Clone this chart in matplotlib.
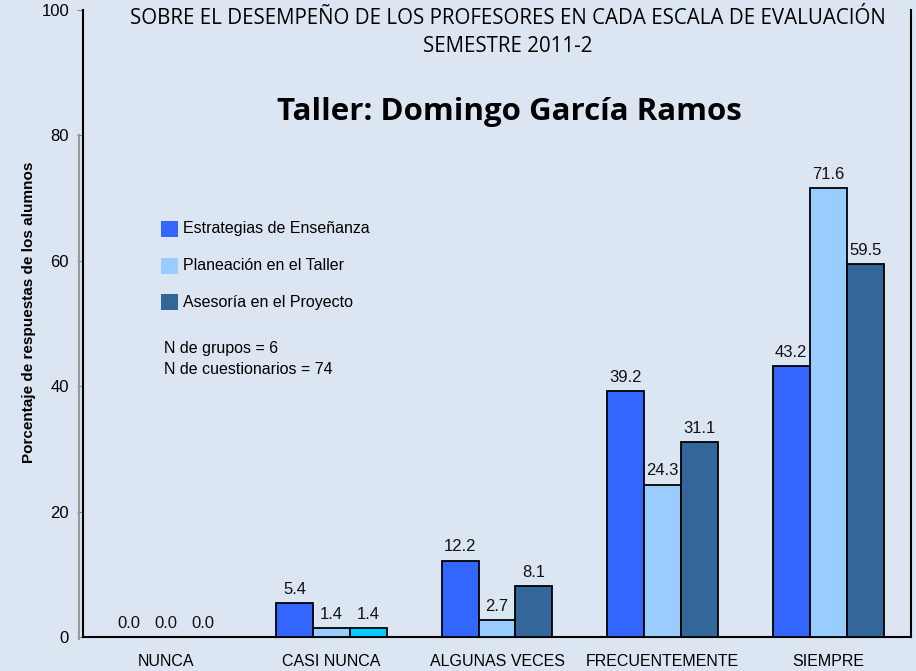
import matplotlib.pyplot as plt
from matplotlib.lines import Line2D
import numpy as np

categorias = ["NUNCA", "CASI NUNCA", "ALGUNAS VECES", "FRECUENTEMENTE", "SIEMPRE"]
estrategias = [0.0, 5.4, 12.2, 39.2, 43.2]
planeacion = [0.0, 1.4, 2.7, 24.3, 71.6]
asesoria = [0.0, 1.4, 8.1, 31.1, 59.5]
series_nombres = ["Estrategias de Enseñanza", "Planeación en el Taller", "Asesoría en el Proyecto"]
y_ticks = [0, 20, 40, 60, 80, 100]

bg = "#dce6f2"
colores = ["#3366ff", "#99ccff", "#336699"]

plt.rcParams['font.family'] = ['Liberation Sans', 'DejaVu Sans']

fig = plt.figure(figsize=(9.16, 6.71), dpi=100, facecolor=bg)
ax = fig.add_axes([83 / 916, 1 - 637 / 671, (911 - 83) / 916, (637 - 10) / 671])
ax.set_facecolor(bg)

x = np.arange(len(categorias))
w = 0.223
for i, (vals, col) in enumerate(zip([estrategias, planeacion, asesoria], colores)):
    cols = [col] * len(vals)
    if i == 2:
        cols[1] = "#00ccff"  # odd colour in the original
    bars = ax.bar(x + (i - 1) * w, vals, w, color=cols, edgecolor="black",
                  linewidth=1.3, zorder=3)
    for b, v in zip(bars, vals):
        ax.text(b.get_x() + b.get_width() / 2, v + 1.0, f"{v:.1f}",
                ha="center", va="bottom", fontsize=12, color="#111111")

ax.set_xlim(-0.5, len(categorias) - 0.5)
ax.set_ylim(0, 100)
ax.set_yticks(y_ticks)
ax.set_xticks(x)
ax.set_xticklabels(categorias, fontsize=11.5)
ax.tick_params(axis="x", length=0, pad=12)
ax.tick_params(axis="y", length=4, color="#888888", labelsize=12, pad=6)
for s in ["left", "right", "bottom"]:
    ax.spines[s].set_linewidth(1.5)
ax.spines["top"].set_visible(False)

ax.set_ylabel("Porcentaje de respuestas de los alumnos", fontsize=11,
              fontweight="bold")
ax.yaxis.set_label_coords(-0.057, 0.518)

# grey shadow line beside the y axis
fig.add_artist(Line2D([79 / 916, 79 / 916], [1 - 135 / 671, 1 - 639 / 671],
                      color="#999999", lw=1.5))

# titles
fig.text(508 / 916, 1 - 18 / 671, "SOBRE EL DESEMPEÑO DE LOS PROFESORES EN CADA ESCALA DE EVALUACIÓN",
         ha="center", va="center", fontsize=14.8, family=["Open Sans", "DejaVu Sans"])
fig.text(508 / 916, 1 - 46 / 671, "SEMESTRE 2011-2",
         ha="center", va="center", fontsize=14.8, family=["Open Sans", "DejaVu Sans"])
fig.text(509 / 916, 1 - 112 / 671, "Taller: Domingo García Ramos",
         ha="center", va="center", fontsize=22.5, fontweight="bold",
         family=["Open Sans", "DejaVu Sans"])

# legend
for k, (nom, col) in enumerate(zip(series_nombres, colores)):
    yy = 1 - (229 + k * 36.5) / 671
    fig.patches.append(plt.Rectangle((161 / 916, yy - 8 / 671), 17 / 916, 16 / 671,
                                     transform=fig.transFigure, facecolor=col,
                                     edgecolor="none", figure=fig))
    fig.text(183 / 916, yy, nom, ha="left", va="center", fontsize=11.5)

fig.text(164 / 916, 1 - 348 / 671, "N de grupos = 6", ha="left", va="center", fontsize=11.5)
fig.text(164 / 916, 1 - 370 / 671, "N de cuestionarios = 74", ha="left", va="center", fontsize=11.5)

fig.savefig("out.png", dpi=100, facecolor=bg)
